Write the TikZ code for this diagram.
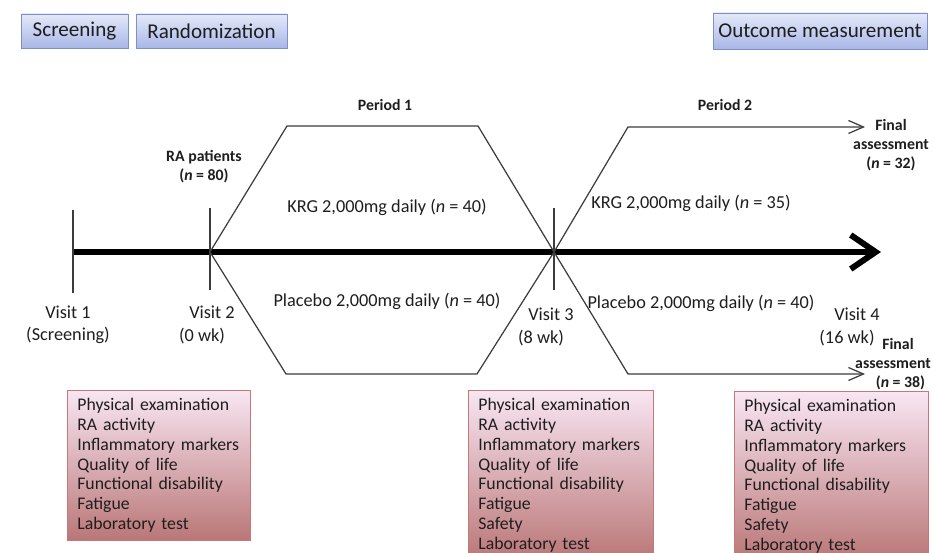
\documentclass[tikz,border=0pt]{standalone}
\usepackage{fontspec}
\setmainfont{Carlito}
\usetikzlibrary{arrows.meta,positioning,calc}

\definecolor{phasetop}{HTML}{E4E9F9}
\definecolor{phasebot}{HTML}{A9B7E7}
\definecolor{phaseline}{HTML}{7F8FC9}
\definecolor{evaltop}{HTML}{F8E6F3}
\definecolor{evalbot}{HTML}{BA7676}
\definecolor{evalline}{HTML}{C47878}
\definecolor{ink}{HTML}{1E1E1E}
\definecolor{armline}{HTML}{3C3C3C}

\tikzset{
  phase/.style={draw=phaseline,top color=phasetop,bottom color=phasebot,inner sep=0pt,
    font=\fontsize{12}{13.5}\selectfont,text=ink},
  evalbox/.style={draw=evalline,top color=evaltop,bottom color=evalbot,anchor=north west,
    align=left,inner xsep=0.2cm,inner ysep=0pt,font=\fontsize{10.1}{11.3}\selectfont,text=ink},
  arm/.style={draw=armline,line width=0.7pt},
  tick/.style={draw=armline,line width=0.8pt},
  lbl/.style={font=\fontsize{10.4}{11.6}\selectfont,text=ink,align=center,inner sep=0pt},
  small/.style={font=\bfseries\fontsize{9}{9.8}\selectfont,text=ink,align=center,inner sep=0pt},
}

\begin{document}
\begin{tikzpicture}[x=0.02cm,y=-0.02cm]
        \useasboundingbox (0,0) rectangle (933,553);
        % Phases
        \node[phase,minimum width=2.14cm,minimum height=0.68cm] (screen) at (74.5,31) {Screening};
        \node[phase,minimum width=3.02cm,minimum height=0.68cm] (random) at (211.5,31) {Randomization};
        \node[phase,minimum width=4.28cm,minimum height=0.72cm] (outcome) at (820,31) {Outcome measurement};
        % Time line
        \coordinate (v1) at (72,252);
        \coordinate (v2) at (210,252);
        \coordinate (v3) at (554,252);
        \coordinate (tend) at (881,252);
        \draw[line width=3.4pt,-{Straight Barb[length=0.5cm,width=0.68cm,line width=3.4pt]}] (v1) -- (tend);
        \draw[tick] (73,210) coordinate (t1a) -- (73,293) coordinate (t1b);
        \draw[tick] (210,208) coordinate (t2a) -- (210,290) coordinate (t2b);
        \draw[tick] (554,208) coordinate (t3a) -- (554,290) coordinate (t3b);
        % Period 1
        \coordinate (k1a) at (287,126); \coordinate (k1b) at (478,126);
        \coordinate (p1a) at (286,374); \coordinate (p1b) at (477,374);
        \draw[arm] (v2) -- (k1a) -- (k1b) -- (v3);
        \draw[arm] (v2) -- (p1a) -- (p1b) -- (v3);
        % Period 2
        \coordinate (k2a) at (628,127); \coordinate (k2b) at (865,127);
        \coordinate (p2a) at (628,374); \coordinate (p2b) at (865,374);
        \draw[arm,-{Straight Barb[length=0.3cm,width=0.26cm]}] (v3) -- (k2a) -- (k2b);
        \draw[arm,-{Straight Barb[length=0.3cm,width=0.26cm]}] (v3) -- (p2a) -- (p2b);
        % Labels
        \node[small] (per1) at (385,105) {Period 1};
        \node[small] (per2) at (725,105) {Period 2};
        \node[small] (ra) at (204,167) {RA patients\\[1pt](\textit{n} = 80)};
        \node[small] (fin1) at (891,145) {Final\\[1pt]assessment\\[1pt](\textit{n} = 32)};
        \node[small] (fin2) at (893,364) {\hspace*{0.2cm}Final\\[1pt]assessment\\[1pt]\hspace*{0.3cm}(\textit{n} = 38)};
        \node[lbl] (krg1) at (387,207) {KRG 2,000mg daily (\textit{n} = 40)};
        \node[lbl] (pla1) at (387,301) {Placebo 2,000mg daily (\textit{n} = 40)};
        \node[lbl] (krg2) at (691,203) {KRG 2,000mg daily (\textit{n} = 35)};
        \node[lbl] (pla2) at (701,303) {Placebo 2,000mg daily (\textit{n} = 40)};
        \node[lbl] (vis1) at (68,325) {Visit 1\\[1pt](Screening)};
        \node[lbl] (vis2) at (207,325) {\hspace*{0.2cm}Visit 2\\[1pt](0 wk)\hspace*{0.2cm}};
        \node[lbl] (vis3) at (546,327) {\hspace*{0.2cm}Visit 3\\[1pt](8 wk)\hspace*{0.2cm}};
        \node[lbl] (vis4) at (852,327) {\hspace*{0.2cm}Visit 4\\[1pt](16 wk)\hspace*{0.2cm}};
        % Assessments
        \node[evalbox,text width=3.26cm,minimum height=3cm] (eval1) at (67,390) {Physical examination\\RA activity\\Inflammatory markers\\Quality of life\\Functional disability\\Fatigue\\Laboratory test};
        \node[evalbox,text width=3.3cm,minimum height=3.4cm] (eval2) at (468,390) {Physical examination\\RA activity\\Inflammatory markers\\Quality of life\\Functional disability\\Fatigue\\Safety\\Laboratory test};
        \node[evalbox,text width=3.48cm,minimum height=3.4cm] (eval3) at (734,391) {Physical examination\\RA activity\\Inflammatory markers\\Quality of life\\Functional disability\\Fatigue\\Safety\\Laboratory test};
      \end{tikzpicture}
\end{document}
